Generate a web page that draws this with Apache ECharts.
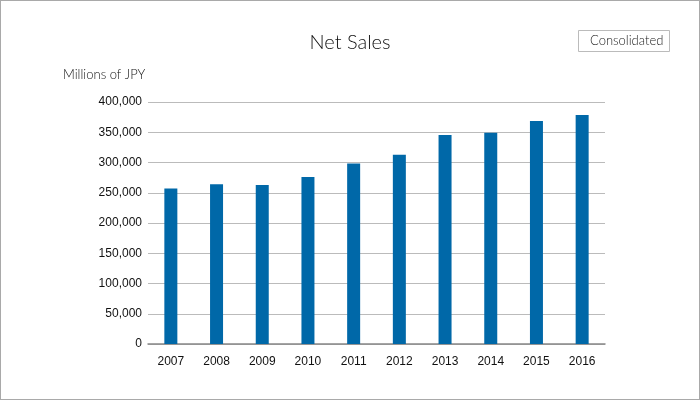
<!DOCTYPE html>
<html><head><meta charset="utf-8">
<script src="https://cdn.jsdelivr.net/npm/echarts@6/dist/echarts.min.js"></script>
<style>
html,body{margin:0;padding:0;background:#fff;}
#c{width:700px;height:400px;box-sizing:border-box;border:1px solid #a9a9a9;}
</style></head><body>
<div id="c"></div>
<script>
var categories = ['2007','2008','2009','2010','2011','2012','2013','2014','2015','2016'];
var netSales = [257000, 264000, 263000, 276000, 298500, 313000, 345500, 349000, 368500, 378500];
var chart = echarts.init(document.getElementById('c'));
chart.setOption({
  animation: false,
  title: {
    text: 'Net Sales', left: 'center', top: 27,
    textStyle: {fontFamily: 'Lato', fontWeight: 300, fontSize: 20, color: '#111'}
  },
  graphic: [
    {type: 'rect', left: 577, top: 29, shape: {width: 91, height: 21},
     style: {fill: '#fff', stroke: '#bbb', lineWidth: 1}},
    {type: 'text', left: 589, top: 33,
     style: {text: 'Consolidated', font: '300 13px Lato', fill: '#222'}},
    {type: 'text', left: 62, top: 67,
     style: {text: 'Millions of JPY', font: '300 13px Lato', fill: '#111'}}
  ],
  grid: {left: 147, right: 94, top: 101, bottom: 55},
  xAxis: {
    type: 'category', data: categories,
    axisLine: {lineStyle: {color: '#888', width: 1.5}},
    axisTick: {show: false},
    axisLabel: {color: '#111', fontFamily: 'Liberation Sans', fontSize: 12, margin: 12}
  },
  yAxis: {
    type: 'value', min: 0, max: 400000, interval: 50000,
    axisLine: {show: false}, axisTick: {show: false},
    axisLabel: {color: '#111', fontFamily: 'Liberation Sans', fontSize: 12, margin: 6,
      formatter: function(v){ return v.toLocaleString('en-US'); }},
    splitLine: {lineStyle: {color: '#bbb'}}
  },
  series: [{
    type: 'bar', data: netSales, barWidth: 13,
    itemStyle: {color: '#0068a8'}
  }]
});
</script></body></html>
